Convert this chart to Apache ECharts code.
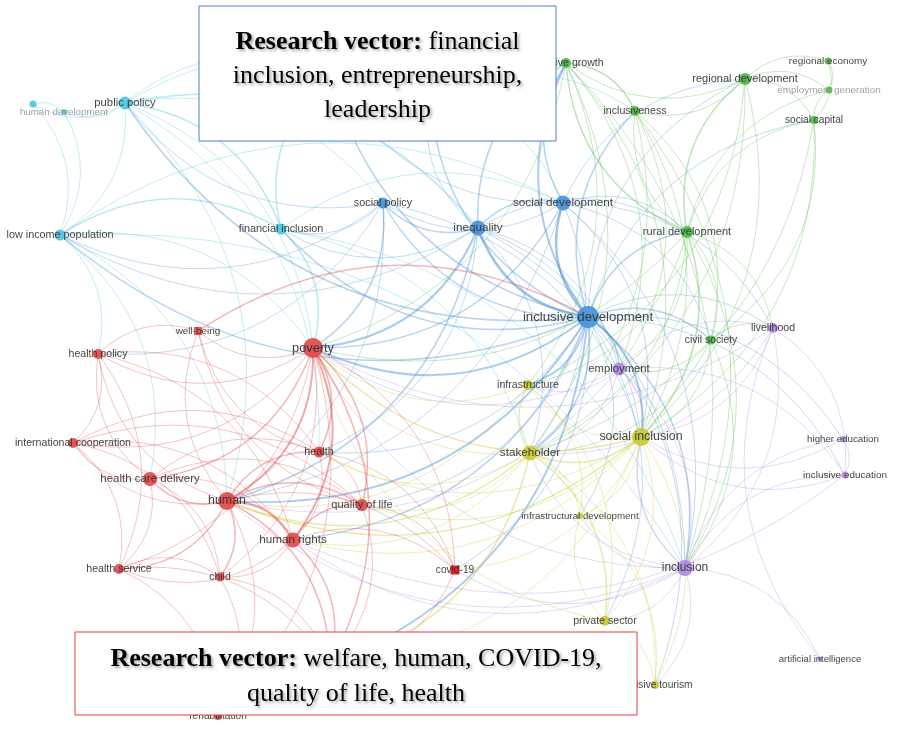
<!DOCTYPE html>
<html>
<head>
<meta charset="utf-8">
<title>Keyword co-occurrence network</title>
<script src="https://cdn.jsdelivr.net/npm/echarts@6/dist/echarts.min.js"></script>
<style>
  html, body { margin: 0; padding: 0; background: #fff; }
  #map { width: 897px; height: 746px; }
</style>
</head>
<body>
<div id="map"></div>
<script>
// keyword map data (positions = layout coordinates of the map, weight = occurrence size)
var clusterColors = ['#4fc6da', '#4a92d8', '#52b847', '#b08ce2', '#c9c936', '#e24a4c'];

var nodeNames = [
  'development', 'human development', 'public policy', 'low income population', 'financial inclusion', 'entrepreneurship', 'leadership',
  'social policy', 'inequality', 'social development', 'inclusive development',
  'inclusive growth', 'regional development', 'inclusiveness', 'regional economy', 'employment generation', 'social capital', 'rural development', 'civil society',
  'employment', 'livelihood', 'higher education', 'inclusive education', 'inclusion', 'artificial intelligence',
  'infrastructure', 'social inclusion', 'stakeholder', 'infrastructural development', 'private sector', 'inclusive tourism',
  'well-being', 'poverty', 'health policy', 'international cooperation', 'health', 'health care delivery', 'human', 'quality of life',
  'human rights', 'health service', 'child', 'covid-19', 'welfare', 'rehabilitation'
];
var nodeX = [
  33, 64, 125, 60, 281, 330, 430,
  383, 478, 563, 588,
  566, 745, 635, 828, 829, 814, 687, 711,
  619, 773, 843, 845, 685, 820,
  528, 641, 530, 580, 605, 655,
  198, 313, 98, 73, 319, 150, 227, 362,
  293, 119, 220, 455, 330, 218
];
var nodeY = [
  104, 112, 103, 235, 229, 75, 100,
  203, 228, 203, 317,
  63, 79, 111, 61, 90, 120, 232, 340,
  369, 328, 439, 475, 568, 659,
  385, 437, 453, 516, 621, 685,
  331, 348, 354, 443, 452, 479, 501, 505,
  540, 569, 577, 570, 665, 716
];
var nodeWeight = [
  7, 6, 13, 11, 11, 11, 11,
  11, 15, 15, 22,
  10, 12, 10, 7, 7, 8, 12, 9,
  13, 10, 6, 7, 16, 5,
  10, 18, 15, 6, 10, 8,
  7, 20, 10, 10, 11, 14, 18, 12,
  15, 10, 9, 8, 12, 8
];
var nodeCluster = [
  0, 0, 0, 0, 0, 0, 0,
  1, 1, 1, 1,
  2, 2, 2, 2, 2, 2, 2, 2,
  3, 3, 3, 3, 3, 3,
  4, 4, 4, 4, 4, 4,
  5, 5, 5, 5, 5, 5, 5, 5,
  5, 5, 5, 5, 5, 5
];
var squareNodes = ['well-being', 'covid-19'];
var fadedLabels = ['human development', 'employment generation'];
var hiddenLabels = ['development'];

// co-occurrence links: [source, target, strength]
var links = [
  ['inclusive development', 'inequality', 4], ['inclusive development', 'social development', 4], ['inclusive development', 'social policy', 2],
  ['inclusive development', 'financial inclusion', 2], ['inclusive development', 'public policy', 2], ['inclusive development', 'low income population', 2],
  ['inclusive development', 'inclusive growth', 3], ['inclusive development', 'inclusiveness', 2], ['inclusive development', 'regional development', 1],
  ['inclusive development', 'rural development', 2], ['inclusive development', 'civil society', 2], ['inclusive development', 'livelihood', 1],
  ['inclusive development', 'employment', 2], ['inclusive development', 'social inclusion', 3], ['inclusive development', 'stakeholder', 2],
  ['inclusive development', 'infrastructure', 2], ['inclusive development', 'inclusion', 2], ['inclusive development', 'private sector', 1],
  ['inclusive development', 'covid-19', 1], ['inclusive development', 'human', 3], ['inclusive development', 'human rights', 2],
  ['inclusive development', 'poverty', 3], ['inclusive development', 'quality of life', 1], ['inclusive development', 'health', 1],
  ['inclusive development', 'inclusive education', 1], ['inclusive development', 'higher education', 1], ['inclusive development', 'infrastructural development', 1],
  ['inclusive development', 'leadership', 2], ['inclusive development', 'entrepreneurship', 2], ['inclusive development', 'welfare', 3],
  ['inclusive development', 'social capital', 1], ['inclusive development', 'inclusive tourism', 1],
  ['inequality', 'poverty', 3], ['inequality', 'social development', 2], ['inequality', 'social policy', 2], ['inequality', 'human', 2],
  ['inequality', 'financial inclusion', 1], ['inequality', 'low income population', 1], ['inequality', 'social inclusion', 1],
  ['inequality', 'stakeholder', 1], ['inequality', 'employment', 1], ['inequality', 'inclusion', 1], ['inequality', 'health', 1],
  ['inequality', 'rural development', 1], ['inequality', 'inclusive growth', 2], ['inequality', 'leadership', 1],
  ['social development', 'social policy', 1], ['social development', 'poverty', 2], ['social development', 'rural development', 1],
  ['social development', 'inclusive growth', 2], ['social development', 'regional development', 1], ['social development', 'civil society', 1],
  ['social development', 'social inclusion', 1], ['social development', 'human', 1], ['social development', 'stakeholder', 1],
  ['social development', 'inclusion', 1], ['social development', 'livelihood', 1], ['social development', 'entrepreneurship', 1],
  ['social policy', 'poverty', 2], ['social policy', 'human', 1], ['social policy', 'low income population', 1], ['social policy', 'public policy', 1],
  ['social policy', 'social inclusion', 1], ['social policy', 'health policy', 1], ['social policy', 'financial inclusion', 1],
  ['public policy', 'human development', 1], ['public policy', 'development', 1], ['public policy', 'low income population', 1],
  ['public policy', 'poverty', 1], ['public policy', 'financial inclusion', 2], ['public policy', 'social policy', 1], ['public policy', 'inequality', 2],
  ['public policy', 'entrepreneurship', 1], ['public policy', 'human', 1], ['public policy', 'leadership', 1], ['public policy', 'health', 1],
  ['development', 'human development', 1], ['development', 'low income population', 1], ['human development', 'low income population', 1],
  ['low income population', 'poverty', 1], ['low income population', 'human', 1], ['low income population', 'health policy', 1],
  ['low income population', 'financial inclusion', 2], ['low income population', 'social development', 1],
  ['low income population', 'health care delivery', 1], ['low income population', 'inclusion', 1],
  ['financial inclusion', 'poverty', 2], ['financial inclusion', 'social development', 1], ['financial inclusion', 'entrepreneurship', 2],
  ['financial inclusion', 'inclusion', 1], ['financial inclusion', 'stakeholder', 1], ['well-being', 'inclusive development', 2],
  ['leadership', 'entrepreneurship', 1], ['leadership', 'social development', 1], ['leadership', 'inclusiveness', 1],
  ['rural development', 'regional development', 2], ['rural development', 'inclusive growth', 2], ['rural development', 'inclusiveness', 1],
  ['rural development', 'social capital', 1], ['rural development', 'civil society', 1], ['rural development', 'social inclusion', 2],
  ['rural development', 'employment', 1], ['rural development', 'stakeholder', 1], ['rural development', 'inclusion', 1],
  ['rural development', 'poverty', 1], ['rural development', 'infrastructure', 1], ['rural development', 'livelihood', 1],
  ['rural development', 'employment generation', 1],
  ['regional development', 'regional economy', 1], ['regional development', 'employment generation', 1], ['regional development', 'social capital', 1],
  ['regional development', 'inclusiveness', 1], ['regional development', 'inclusive growth', 1], ['regional development', 'social inclusion', 1],
  ['regional development', 'stakeholder', 1], ['regional development', 'infrastructure', 1],
  ['inclusive growth', 'inclusiveness', 2], ['inclusive growth', 'social inclusion', 1], ['inclusive growth', 'stakeholder', 1],
  ['inclusive growth', 'employment', 1], ['inclusive growth', 'inclusion', 1], ['inclusive growth', 'poverty', 1], ['inclusive growth', 'infrastructure', 1],
  ['inclusiveness', 'social inclusion', 1], ['inclusiveness', 'stakeholder', 1], ['inclusiveness', 'inclusion', 1],
  ['inclusiveness', 'employment', 1], ['inclusiveness', 'civil society', 1],
  ['regional economy', 'employment generation', 1], ['regional economy', 'social capital', 1], ['social capital', 'employment generation', 1],
  ['social capital', 'civil society', 1], ['social capital', 'social inclusion', 1], ['social capital', 'stakeholder', 1],
  ['civil society', 'social inclusion', 1], ['civil society', 'inclusion', 1], ['civil society', 'employment', 1],
  ['civil society', 'stakeholder', 1], ['civil society', 'livelihood', 1],
  ['employment', 'social inclusion', 2], ['employment', 'inclusion', 1], ['employment', 'livelihood', 1], ['employment', 'stakeholder', 1],
  ['employment', 'infrastructure', 1], ['employment', 'poverty', 1], ['employment', 'human', 1], ['employment', 'inclusive education', 1],
  ['livelihood', 'inclusion', 1], ['livelihood', 'inclusive education', 1], ['livelihood', 'social inclusion', 1],
  ['livelihood', 'poverty', 1], ['livelihood', 'stakeholder', 1],
  ['inclusion', 'social inclusion', 2], ['inclusion', 'inclusive education', 1], ['inclusion', 'higher education', 1],
  ['inclusion', 'artificial intelligence', 1], ['inclusion', 'stakeholder', 1], ['inclusion', 'private sector', 1], ['inclusion', 'covid-19', 1],
  ['inclusion', 'human', 1], ['inclusion', 'human rights', 1], ['inclusion', 'inclusive tourism', 1], ['inclusion', 'poverty', 1],
  ['inclusion', 'infrastructural development', 1],
  ['higher education', 'inclusive education', 1], ['higher education', 'social inclusion', 1], ['inclusive education', 'social inclusion', 1],
  ['inclusive education', 'human rights', 1], ['artificial intelligence', 'livelihood', 1],
  ['social inclusion', 'stakeholder', 2], ['social inclusion', 'infrastructure', 1], ['social inclusion', 'infrastructural development', 1],
  ['social inclusion', 'private sector', 1], ['social inclusion', 'poverty', 2], ['social inclusion', 'human', 2],
  ['social inclusion', 'human rights', 1], ['social inclusion', 'health', 1], ['social inclusion', 'quality of life', 1],
  ['social inclusion', 'inclusive tourism', 1], ['social inclusion', 'covid-19', 1], ['social inclusion', 'welfare', 1],
  ['stakeholder', 'infrastructure', 2], ['stakeholder', 'private sector', 2], ['stakeholder', 'infrastructural development', 1],
  ['stakeholder', 'inclusive tourism', 1], ['stakeholder', 'poverty', 1], ['stakeholder', 'human', 2], ['stakeholder', 'quality of life', 1],
  ['stakeholder', 'health', 1], ['stakeholder', 'human rights', 1], ['stakeholder', 'welfare', 2],
  ['infrastructure', 'private sector', 1], ['infrastructure', 'infrastructural development', 1], ['infrastructure', 'poverty', 1],
  ['infrastructure', 'human', 1], ['private sector', 'inclusive tourism', 1], ['private sector', 'infrastructural development', 1],
  ['private sector', 'poverty', 1], ['infrastructural development', 'inclusive tourism', 1],
  ['poverty', 'human', 3], ['poverty', 'health', 2], ['poverty', 'human rights', 3], ['poverty', 'quality of life', 2],
  ['poverty', 'health policy', 1], ['poverty', 'international cooperation', 1], ['poverty', 'health care delivery', 2],
  ['poverty', 'health service', 1], ['poverty', 'child', 1], ['poverty', 'well-being', 1], ['poverty', 'covid-19', 1],
  ['poverty', 'welfare', 2], ['poverty', 'rehabilitation', 1],
  ['human', 'health care delivery', 2], ['human', 'human rights', 3], ['human', 'health', 2], ['human', 'quality of life', 2],
  ['human', 'health service', 2], ['human', 'child', 2], ['human', 'international cooperation', 1], ['human', 'health policy', 1],
  ['human', 'covid-19', 1], ['human', 'welfare', 2], ['human', 'rehabilitation', 1], ['human', 'well-being', 1],
  ['health care delivery', 'health policy', 1], ['health care delivery', 'international cooperation', 1], ['health care delivery', 'health service', 1],
  ['health care delivery', 'child', 1], ['health care delivery', 'human rights', 1], ['health care delivery', 'health', 1],
  ['health care delivery', 'quality of life', 1],
  ['health policy', 'international cooperation', 1], ['health policy', 'health service', 1], ['health policy', 'human rights', 1],
  ['health policy', 'health', 1], ['health policy', 'well-being', 1],
  ['international cooperation', 'health service', 1], ['international cooperation', 'human rights', 1], ['international cooperation', 'health', 1],
  ['international cooperation', 'quality of life', 1], ['international cooperation', 'child', 1],
  ['health', 'human rights', 1], ['health', 'quality of life', 1], ['health', 'covid-19', 1], ['health', 'well-being', 1],
  ['human rights', 'quality of life', 2], ['human rights', 'child', 1], ['human rights', 'health service', 1],
  ['human rights', 'covid-19', 1], ['human rights', 'welfare', 2],
  ['quality of life', 'covid-19', 1], ['quality of life', 'well-being', 1], ['quality of life', 'welfare', 1],
  ['health service', 'child', 1], ['health service', 'rehabilitation', 1], ['health service', 'welfare', 1],
  ['child', 'rehabilitation', 1], ['child', 'welfare', 1], ['covid-19', 'welfare', 1]
];

var topNote = ['Research vector:', ' financial\ninclusion, entrepreneurship,\nleadership'];
var bottomNote = ['Research vector:', ' welfare, human, COVID-19,\nquality of life, health'];

(function () {
  var myChart = echarts.init(document.getElementById('map'));

  var minX = Math.min.apply(null, nodeX), maxX = Math.max.apply(null, nodeX);
  var minY = Math.min.apply(null, nodeY), maxY = Math.max.apply(null, nodeY);

  var colorOf = {};
  var nodes = nodeNames.map(function (name, i) {
    var color = clusterColors[nodeCluster[i]];
    colorOf[name] = color;
    var w = nodeWeight[i];
    return {
      name: name,
      x: nodeX[i],
      y: nodeY[i],
      symbol: squareNodes.indexOf(name) >= 0 ? 'rect' : 'circle',
      symbolSize: squareNodes.indexOf(name) >= 0 ? w + 1 : w,
      itemStyle: { color: name === 'covid-19' ? '#e0101e' : color, opacity: 0.92 },
      label: {
        show: hiddenLabels.indexOf(name) < 0,
        fontSize: 9.5 + (w - 5) * 0.22,
        color: fadedLabels.indexOf(name) >= 0 ? '#999' : '#333'
      }
    };
  });

  var edges = links.map(function (l) {
    return {
      source: l[0],
      target: l[1],
      lineStyle: {
        color: colorOf[l[0]],
        width: 0.5 + l[2] * 0.5,
        opacity: 0.26 + l[2] * 0.07
      }
    };
  });

  function note(box, parts, border) {
    var shadow = { textShadowColor: 'rgba(0,0,0,0.35)', textShadowBlur: 3, textShadowOffsetX: 2, textShadowOffsetY: 2 };
    var base = { fontFamily: 'Liberation Serif', fontSize: 26, lineHeight: box[4] };
    return [
      {
        type: 'rect',
        z: 100,
        shape: { x: box[0], y: box[1], width: box[2], height: box[3] },
        style: { fill: '#fff', stroke: border, lineWidth: 1 }
      },
      {
        type: 'text',
        z: 101,
        x: box[0] + box[2] / 2,
        y: box[1] + box[3] / 2 + 3,
        style: Object.assign({
          text: '{b|' + parts[0] + '}' + parts[1].split('\n').map(function (s) { return '{n|' + s + '}'; }).join('\n'),
          align: 'center',
          verticalAlign: 'middle',
          fill: '#000',
          rich: {
            b: Object.assign({ fontWeight: 'bold' }, base, shadow),
            n: Object.assign({}, base, shadow)
          }
        }, base, shadow)
      }
    ];
  }

  var option = {
    backgroundColor: '#fff',
    animation: false,
    series: [{
      type: 'graph',
      layout: 'none',
      left: minX,
      top: minY,
      width: maxX - minX,
      height: maxY - minY,
      roam: false,
      label: {
        show: true,
        position: 'inside',
        fontFamily: 'Liberation Sans'
      },
      lineStyle: { curveness: 0.3 },
      emphasis: { disabled: true },
      data: nodes,
      links: edges
    }],
    graphic: note([199, 6, 357, 135, 34], topNote, '#4a7fd0')
      .concat(note([75, 632, 562, 83, 35], bottomNote, '#e83a3a'))
  };
  myChart.setOption(option);
})();
</script>
</body>
</html>
